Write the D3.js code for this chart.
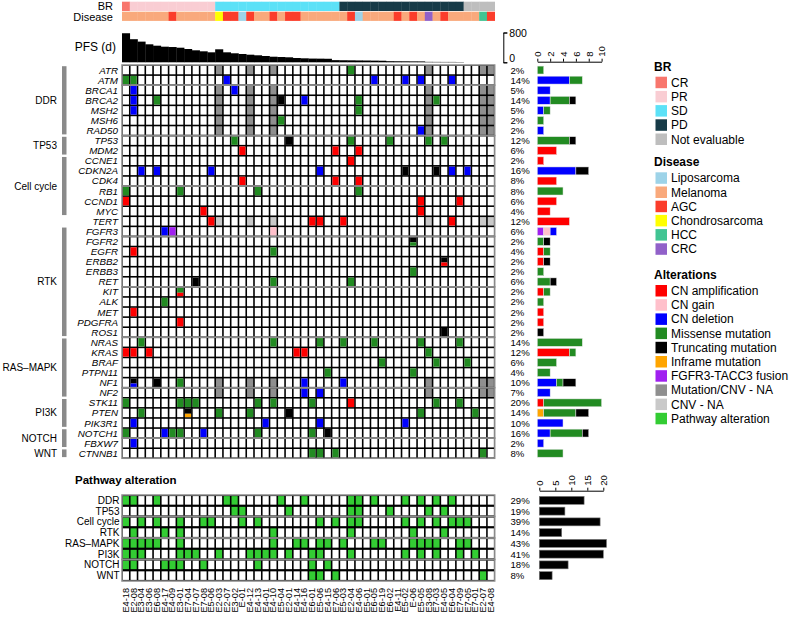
<!DOCTYPE html>
<html lang="en">
<head>
<meta charset="UTF-8">
<title>Oncoprint</title>
<script src="https://d3js.org/d3.v7.min.js"></script>
<style>
  body { margin: 0; background: #fff; }
  svg { display: block; font-family: "Liberation Sans", Arial, sans-serif; }
</style>
</head>
<body>
<svg id="chart" width="795" height="618"></svg>
<script>
// ---------------- data ----------------
const samples = ["E4-18","E2-08","E3-04","E3-06","E6-08","E4-17","E4-09","E3-01","E7-04","E7-07","E7-08","E5-06",
  "E2-03","E2-07","E3-02","E-01","E4-12","E4-13","E4-01","E4-10","E5-04","E2-01","E4-14","E4-16",
  "E6-01","E5-06","E4-15","E7-06","E5-03","E2-04","E4-06","E5-01","E6-05","E6-19","E6-02","E4-11",
  "E5-02","E-06","E5-05","E3-08","E7-03","E4-05","E6-04","E7-09","E7-05","E7-01","E2-07","E4-08"];

const br = ["CR","PR","PR","PR","PR","PR","PR","PR","PR","PR","PR","PR",
  "SD","SD","SD","SD","SD","SD","SD","SD","SD","SD","SD","SD","SD","SD","SD","SD",
  "PD","PD","PD","PD","PD","PD","PD","PD","PD","PD","PD","PD","PD","PD","PD","PD",
  "Not evaluable","Not evaluable","Not evaluable","Not evaluable"];

const disease = ["Melanoma","Melanoma","Melanoma","Melanoma","Melanoma","Melanoma","AGC","Melanoma","Melanoma","Melanoma","Melanoma","Melanoma",
  "Chondrosarcoma","AGC","AGC","Liposarcoma","AGC","Melanoma","Melanoma","AGC","Melanoma","AGC","AGC","Melanoma",
  "Melanoma","Melanoma","Melanoma","Melanoma","Melanoma","AGC","Liposarcoma","Melanoma","Melanoma","Melanoma","Melanoma","AGC",
  "Melanoma","AGC","Melanoma","CRC","Melanoma","AGC","Melanoma","Melanoma","Melanoma","Melanoma","HCC","AGC"];

const pfs = [780,620,555,483,446,419,410,392,357,322,295,268,
  349,268,242,223,204,188,169,150,142,134,115,107,100,98,95,58,
  55,53,50,48,45,42,30,28,27,25,24,12,11,10,10,8,
  0,0,0,0];

const genes = ["ATR","ATM","BRCA1","BRCA2","MSH2","MSH6","RAD50","TP53","MDM2","CCNE1","CDKN2A","CDK4",
  "RB1","CCND1","MYC","TERT","FGFR3","FGFR2","EGFR","ERBB2","ERBB3","RET","KIT","ALK","MET","PDGFRA",
  "ROS1","NRAS","KRAS","BRAF","PTPN11","NF1","NF2","STK11","PTEN","PIK3R1","NOTCH1","FBXW7","CTNNB1"];

const genePct = ["2%","14%","5%","14%","5%","2%","2%","12%","6%","2%","16%","8%",
  "8%","6%","4%","12%","6%","2%","4%","2%","2%","6%","2%","2%","2%","2%",
  "2%","14%","12%","6%","4%","10%","7%","20%","14%","10%","16%","2%","8%"];

const geneGroups = [
  ["DDR","ATR","RAD50"], ["TP53","TP53","MDM2"], ["Cell cycle","CCNE1","MYC"], ["RTK","FGFR3","ROS1"],
  ["RAS\u2013MAPK","NRAS","NF2"], ["PI3K","STK11","PIK3R1"], ["NOTCH","NOTCH1","FBXW7"], ["WNT","CTNNB1","CTNNB1"]
];

// [gene, sample column, alteration]
const alterations = [
  ["ATR",29,"mis"],
  ["ATM",0,"mis"],["ATM",1,"mis"],["ATM",13,"del"],["ATM",32,"del"],["ATM",36,"del"],["ATM",38,"del"],["ATM",42,"del"],
  ["BRCA1",1,"del"],["BRCA1",14,"del"],
  ["BRCA2",1,"del"],["BRCA2",4,"mis"],["BRCA2",20,"trunc"],["BRCA2",23,"del"],["BRCA2",30,"mis"],["BRCA2",40,"mis"],
  ["MSH2",1,"del"],["MSH2",30,"mis"],
  ["MSH6",20,"mis"],
  ["RAD50",38,"del"],
  ["TP53",14,"mis"],["TP53",21,"trunc"],["TP53",29,"mis"],["TP53",34,"mis"],["TP53",39,"mis"],["TP53",41,"mis"],
  ["MDM2",15,"amp"],["MDM2",27,"amp"],["MDM2",30,"amp"],
  ["CCNE1",29,"amp"],
  ["CDKN2A",2,"del"],["CDKN2A",4,"del"],["CDKN2A",11,"del"],["CDKN2A",25,"del"],["CDKN2A",36,"trunc"],
  ["CDKN2A",40,"trunc"],["CDKN2A",42,"del"],["CDKN2A",44,"del"],
  ["CDK4",15,"amp"],["CDK4",27,"amp"],["CDK4",30,"amp"],
  ["RB1",0,"mis"],["RB1",7,"mis"],["RB1",17,"mis"],["RB1",30,"mis"],
  ["CCND1",0,"amp"],["CCND1",38,"amp"],["CCND1",43,"amp"],
  ["MYC",10,"amp"],["MYC",38,"amp"],
  ["TERT",11,"amp"],["TERT",24,"amp"],["TERT",25,"amp"],["TERT",28,"amp"],["TERT",42,"amp"],
  ["FGFR3",5,"del"],["FGFR3",6,"fus"],["FGFR3",19,"gain"],
  ["FGFR2",37,"trunc"],["FGFR2",37,"mis"],
  ["EGFR",1,"amp"],["EGFR",19,"mis"],
  ["ERBB2",41,"trunc"],["ERBB2",41,"amp"],
  ["ERBB3",37,"mis"],
  ["RET",9,"trunc"],["RET",19,"mis"],["RET",29,"mis"],
  ["KIT",7,"mis"],["KIT",7,"amp"],
  ["ALK",5,"mis"],
  ["MET",1,"amp"],
  ["PDGFRA",7,"amp"],
  ["ROS1",41,"trunc"],
  ["NRAS",2,"mis"],["NRAS",19,"mis"],["NRAS",25,"mis"],["NRAS",28,"mis"],["NRAS",32,"mis"],["NRAS",38,"mis"],["NRAS",43,"mis"],
  ["KRAS",0,"amp"],["KRAS",1,"amp"],["KRAS",3,"amp"],["KRAS",22,"amp"],["KRAS",23,"amp"],["KRAS",39,"mis"],
  ["BRAF",33,"mis"],["BRAF",40,"mis"],["BRAF",44,"mis"],
  ["PTPN11",26,"mis"],["PTPN11",37,"mis"],
  ["NF1",1,"trunc"],["NF1",1,"del"],["NF1",4,"trunc"],["NF1",7,"mis"],["NF1",23,"del"],["NF1",28,"del"],
  ["NF2",23,"del"],["NF2",25,"del"],
  ["STK11",0,"mis"],["STK11",7,"mis"],["STK11",8,"mis"],["STK11",9,"mis"],["STK11",17,"mis"],["STK11",19,"mis"],
  ["STK11",24,"mis"],["STK11",29,"amp"],["STK11",40,"mis"],["STK11",43,"mis"],
  ["PTEN",2,"mis"],["PTEN",8,"trunc"],["PTEN",8,"inf"],["PTEN",12,"mis"],["PTEN",16,"mis"],["PTEN",21,"trunc"],
  ["PTEN",38,"mis"],["PTEN",45,"mis"],
  ["PIK3R1",1,"del"],["PIK3R1",18,"del"],["PIK3R1",25,"del"],["PIK3R1",36,"del"],
  ["NOTCH1",0,"mis"],["NOTCH1",5,"del"],["NOTCH1",6,"mis"],["NOTCH1",7,"mis"],["NOTCH1",10,"del"],["NOTCH1",17,"mis"],
  ["NOTCH1",24,"mis"],["NOTCH1",26,"trunc"],
  ["FBXW7",1,"del"],
  ["CTNNB1",24,"mis"],["CTNNB1",25,"mis"],["CTNNB1",27,"mis"],["CTNNB1",46,"mis"]
];

const naSamples = [12,16,19,39,46,47];
const naMutCnvGenes = ["ATR","BRCA1","BRCA2","MSH2","MSH6","RAD50","NF1","NF2"];
const naCnvGenes = ["TERT"];

const pathways = ["DDR","TP53","Cell cycle","RTK","RAS\u2013MAPK","PI3K","NOTCH","WNT"];
const pathwayHits = [
  [0,1,4,13,14,20,23,29,30,32,36,38,40,42],
  [14,15,21,29,30,34,39,41],
  [0,2,4,7,10,11,15,17,25,27,29,30,36,38,40,42,43,44],
  [1,5,7,19,29,37,41],
  [0,1,2,3,4,7,19,22,23,25,26,28,32,33,37,38,39,40,43,44],
  [0,1,2,7,8,9,12,16,17,18,19,21,24,25,29,36,38,40,43,45],
  [0,1,5,6,7,10,17,24,26],
  [24,25,27,46]
];
const pathwayCount = [14,8,19,7,21,20,9,4];
const pathwayPct = ["29%","19%","39%","14%","43%","41%","18%","8%"];

const brLevels = ["CR","PR","SD","PD","Not evaluable"];
const brColors = ["#f8766d","#f9cdd3","#5ce1f7","#173b48","#bebebe"];
const diseaseLevels = ["Liposarcoma","Melanoma","AGC","Chondrosarcoma","HCC","CRC"];
const diseaseColors = ["#9dd3e8","#f9a97c","#fb3d2b","#ffff00","#41c493","#9161c9"];
const altKeys = ["amp","gain","del","mis","trunc","inf","fus","na","cnvna","path"];
const altLabels = ["CN amplification","CN gain","CN deletion","Missense mutation","Truncating mutation",
  "Inframe mutation","FGFR3-TACC3 fusion","Mutation/CNV - NA","CNV - NA","Pathway alteration"];
const altColors = ["#ff0000","#ffc0cb","#0000ff","#228b22","#000000","#ffa500","#a020f0","#8f8f8f","#c9c9c9","#33cc33"];
const barOrder = ["fus","amp","gain","del","inf","mis","trunc"];

// ---------------- scales ----------------
const svg = d3.select("#chart");
const altColor = d3.scaleOrdinal(altKeys, altColors);
const brColor = d3.scaleOrdinal(brLevels, brColors);
const disColor = d3.scaleOrdinal(diseaseLevels, diseaseColors);

const x = d3.scaleBand().domain(d3.range(samples.length)).range([122, 494.7]);
const yGene = d3.scaleBand().domain(genes).range([65, 458.3]);
const yPath = d3.scaleBand().domain(pathways).range([495, 581]);
const yPfs = d3.scaleLinear().domain([0, 800]).range([62.3, 32.5]);
const xGeneBar = d3.scaleLinear().domain([0, 10]).range([537.3, 601.6]);
const xPathBar = d3.scaleLinear().domain([0, 20]).range([539.3, 603.3]);
const bw = x.bandwidth();
const gap = 0.8;
const gray = "#8a8a8a";

// ---------------- top annotations ----------------
svg.append("g").selectAll("rect").data(br).join("rect")
  .attr("x", (d, i) => x(i)).attr("y", 1.7).attr("width", bw + 0.3).attr("height", 9.3)
  .attr("fill", d => brColor(d));
svg.append("g").selectAll("rect").data(disease).join("rect")
  .attr("x", (d, i) => x(i)).attr("y", 11.7).attr("width", bw + 0.3).attr("height", 9.2)
  .attr("fill", d => disColor(d));
svg.append("text").attr("x", 113).attr("y", 6).attr("text-anchor", "end")
  .attr("dominant-baseline", "central").attr("font-size", 11).text("BR");
svg.append("text").attr("x", 113).attr("y", 17.3).attr("text-anchor", "end")
  .attr("dominant-baseline", "central").attr("font-size", 11).text("Disease");

// PFS bars
svg.append("g").selectAll("rect").data(pfs).join("rect")
  .attr("x", (d, i) => x(i)).attr("y", d => yPfs(d)).attr("width", bw + 0.3)
  .attr("height", d => yPfs(0) - yPfs(d)).attr("fill", "#000");
svg.append("text").attr("x", 116).attr("y", 47).attr("text-anchor", "end")
  .attr("dominant-baseline", "central").attr("font-size", 12).text("PFS (d)");
const pfsAxis = svg.append("g").attr("transform", "translate(503.3,0)")
  .call(d3.axisRight(yPfs).tickValues([0, 800]).tickSize(4).tickPadding(2));
pfsAxis.select(".domain").attr("stroke", "#000");
pfsAxis.selectAll("text").attr("font-size", 10.5).attr("dy", (d) => d === 0 ? "-0.05em" : "0.4em")
  .attr("font-family", "Liberation Sans, Arial, sans-serif");

// ---------------- gene matrix ----------------
const mat = svg.append("g");
mat.append("rect").attr("x", x.range()[0]).attr("y", yGene.range()[0])
  .attr("width", x.range()[1] - x.range()[0]).attr("height", yGene.range()[1] - yGene.range()[0])
  .attr("fill", "#000");

const cells = genes.flatMap(g => samples.map((s, i) => ({ g, i })));
function baseFill(d) {
  if (naSamples.includes(d.i)) {
    if (naMutCnvGenes.includes(d.g)) return altColor("na");
    if (naCnvGenes.includes(d.g)) return altColor("cnvna");
  }
  return "#fff";
}
mat.selectAll("rect.cell").data(cells).join("rect").attr("class", "cell")
  .attr("x", d => x(d.i) + gap).attr("y", d => yGene(d.g) + gap)
  .attr("width", bw - 2 * gap).attr("height", yGene.bandwidth() - 2 * gap)
  .attr("fill", baseFill);

// alterations, several in one cell are stacked top to bottom
const byCell = d3.group(alterations, d => d[0] + "|" + d[1]);
const altRects = [];
byCell.forEach(list => {
  list.forEach((a, k) => altRects.push({ g: a[0], i: a[1], t: a[2], k, n: list.length }));
});
const ch = yGene.bandwidth() - 2 * gap;
mat.selectAll("rect.alt").data(altRects).join("rect").attr("class", "alt")
  .attr("x", d => x(d.i) + gap)
  .attr("y", d => yGene(d.g) + gap + (d.n === 1 ? 0 : (d.k === 0 ? 0 : ch * 0.6)))
  .attr("width", bw - 2 * gap)
  .attr("height", d => d.n === 1 ? ch : (d.k === 0 ? ch * 0.6 : ch * 0.4))
  .attr("fill", d => altColor(d.t));

// grey frames every 5 rows
const blockStarts = genes.map((g, r) => r).filter(r => r === 0 || r % 5 === 2);
blockStarts.forEach((r, k) => {
  const end = k < blockStarts.length - 1 ? blockStarts[k + 1] : genes.length;
  const y0 = yGene(genes[r]);
  const y1 = end < genes.length ? yGene(genes[end]) : yGene.range()[1];
  mat.append("rect").attr("x", x.range()[0]).attr("y", y0)
    .attr("width", x.range()[1] - x.range()[0]).attr("height", y1 - y0)
    .attr("fill", "none").attr("stroke", gray).attr("stroke-width", 1.5);
});

// gene labels
svg.append("g").selectAll("text").data(genes).join("text")
  .attr("x", 118).attr("y", d => yGene(d) + yGene.bandwidth() / 2)
  .attr("text-anchor", "end").attr("dominant-baseline", "central")
  .attr("font-size", 9.8).attr("font-style", "italic").text(d => d);

// pathway group bars on the left
const grp = svg.append("g");
geneGroups.forEach(([name, from, to]) => {
  const y0 = yGene(from) + 1.2;
  const y1 = yGene(to) + yGene.bandwidth() - 1.2;
  grp.append("rect").attr("x", 62).attr("y", y0).attr("width", 4.5).attr("height", y1 - y0).attr("fill", gray);
  grp.append("text").attr("x", 57).attr("y", (y0 + y1) / 2).attr("text-anchor", "end")
    .attr("dominant-baseline", "central").attr("font-size", 10).text(name);
});

// gene percentages and stacked bars
svg.append("g").selectAll("text").data(genePct).join("text")
  .attr("x", 510.5).attr("y", (d, i) => yGene(genes[i]) + yGene.bandwidth() / 2)
  .attr("dominant-baseline", "central").attr("font-size", 9.6).text(d => d);

const geneCounts = genes.map(g => barOrder.map(t => alterations.filter(a => a[0] === g && a[2] === t).length));
const geneBarSegs = [];
geneCounts.forEach((counts, gi) => {
  let acc = 0;
  counts.forEach((c, ti) => {
    if (c > 0) { geneBarSegs.push({ g: genes[gi], t: barOrder[ti], x0: acc, x1: acc + c }); acc += c; }
  });
});
svg.append("g").selectAll("rect").data(geneBarSegs).join("rect")
  .attr("x", d => xGeneBar(d.x0)).attr("y", d => yGene(d.g) + 1.1)
  .attr("width", d => xGeneBar(d.x1) - xGeneBar(d.x0)).attr("height", yGene.bandwidth() - 2.2)
  .attr("fill", d => altColor(d.t)).attr("stroke", "#e6e6e6").attr("stroke-width", 0.5);

const gAxis = svg.append("g").attr("transform", "translate(0,61.7)")
  .call(d3.axisTop(xGeneBar).tickValues([0, 2, 4, 6, 8, 10]).tickSize(3).tickSizeOuter(0));
gAxis.selectAll("text").attr("font-size", 9.5).attr("text-anchor", "start")
  .attr("transform", "translate(0,-5) rotate(-90)").attr("x", 0).attr("y", 0).attr("dy", "0.35em")
  .attr("font-family", "Liberation Sans, Arial, sans-serif");

// ---------------- pathway panel ----------------
svg.append("text").attr("x", 75).attr("y", 480).attr("dominant-baseline", "central")
  .attr("font-size", 11.5).attr("font-weight", "bold").text("Pathway alteration");

const pm = svg.append("g");
pm.append("rect").attr("x", x.range()[0]).attr("y", yPath.range()[0])
  .attr("width", x.range()[1] - x.range()[0]).attr("height", yPath.range()[1] - yPath.range()[0])
  .attr("fill", "#000");
const pcells = pathways.flatMap((p, pi) => samples.map((s, i) => ({ p, i, hit: pathwayHits[pi].includes(i) })));
pm.selectAll("rect.cell").data(pcells).join("rect").attr("class", "cell")
  .attr("x", d => x(d.i) + gap).attr("y", d => yPath(d.p) + 1.1)
  .attr("width", bw - 2 * gap).attr("height", yPath.bandwidth() - 2.2)
  .attr("fill", d => d.hit ? altColor("path") : "#fff");
for (let k = 0; k < pathways.length; k += 2) {
  const y0 = yPath(pathways[k]);
  pm.append("rect").attr("x", x.range()[0]).attr("y", y0)
    .attr("width", x.range()[1] - x.range()[0]).attr("height", yPath.bandwidth() * 2)
    .attr("fill", "none").attr("stroke", gray).attr("stroke-width", 1.5);
}
svg.append("g").selectAll("text").data(pathways).join("text")
  .attr("x", 119.5).attr("y", d => yPath(d) + yPath.bandwidth() / 2)
  .attr("text-anchor", "end").attr("dominant-baseline", "central").attr("font-size", 10).text(d => d);

svg.append("g").selectAll("text").data(pathwayPct).join("text")
  .attr("x", 510.5).attr("y", (d, i) => yPath(pathways[i]) + yPath.bandwidth() / 2)
  .attr("dominant-baseline", "central").attr("font-size", 9.6).text(d => d);
svg.append("g").selectAll("rect").data(pathwayCount).join("rect")
  .attr("x", xPathBar(0)).attr("y", (d, i) => yPath(pathways[i]) + 1.4)
  .attr("width", d => xPathBar(d) - xPathBar(0)).attr("height", yPath.bandwidth() - 2.8)
  .attr("fill", "#000").attr("stroke", "#777").attr("stroke-width", 0.6);
const pAxis = svg.append("g").attr("transform", "translate(0,490.7)")
  .call(d3.axisTop(xPathBar).tickValues([0, 5, 10, 15, 20]).tickSize(3).tickSizeOuter(0));
pAxis.selectAll("text").attr("font-size", 9.5).attr("text-anchor", "start")
  .attr("transform", "translate(0,-5) rotate(-90)").attr("x", 0).attr("y", 0).attr("dy", "0.35em")
  .attr("font-family", "Liberation Sans, Arial, sans-serif");

// sample labels
svg.append("g").selectAll("text").data(samples).join("text")
  .attr("transform", (d, i) => `translate(${x(i) + bw / 2},588) rotate(-90)`)
  .attr("text-anchor", "end").attr("dominant-baseline", "central")
  .attr("font-size", 9.2).text(d => d);

// ---------------- legends ----------------
function legend(title, labels, colors, top) {
  const g = svg.append("g");
  g.append("text").attr("x", 654).attr("y", top).attr("dominant-baseline", "central")
    .attr("font-size", 12).attr("font-weight", "bold").text(title);
  const item = g.selectAll("g").data(labels).join("g")
    .attr("transform", (d, i) => `translate(655.5,${top + 10 + i * 14.2})`);
  item.append("rect").attr("width", 11.5).attr("height", 11.5).attr("fill", (d, i) => colors[i]);
  item.append("text").attr("x", 15.5).attr("y", 6).attr("dominant-baseline", "central")
    .attr("font-size", 12).text(d => d);
}
legend("BR", brLevels, brColors, 66.7);
legend("Disease", diseaseLevels, diseaseColors, 162.3);
legend("Alterations", altLabels, altColors, 275);
</script>
</body>
</html>
